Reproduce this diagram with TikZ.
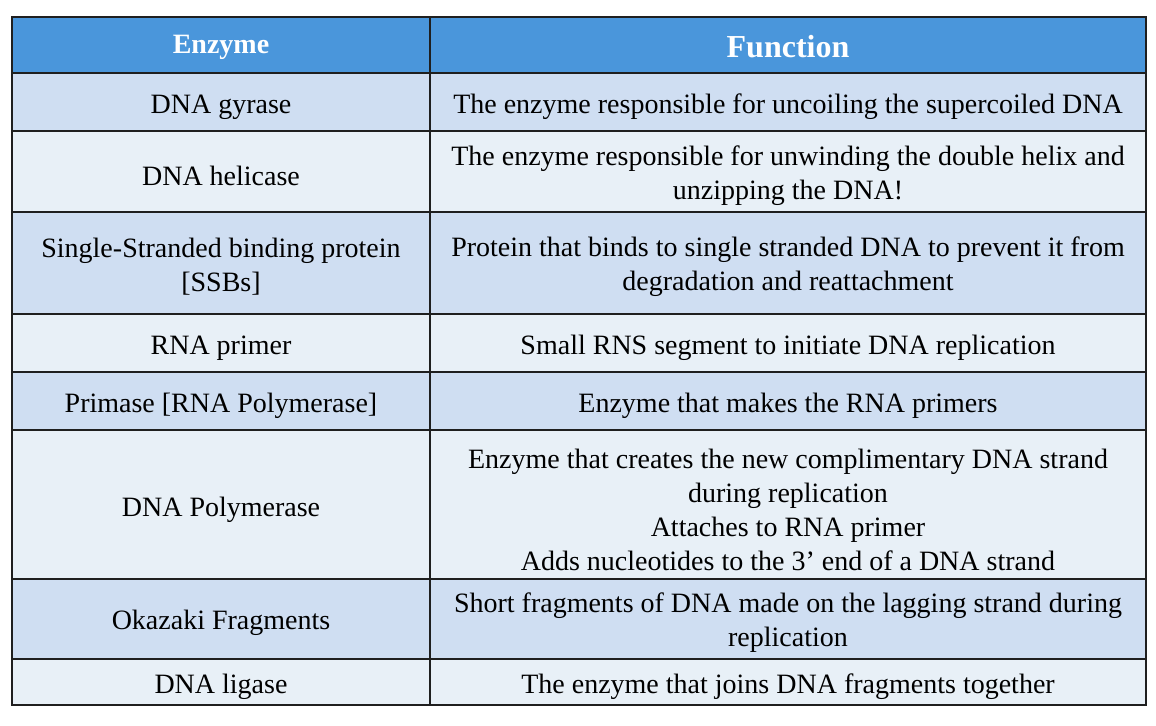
\documentclass[tikz,border=0pt]{standalone}
\usepackage{fontspec}
\setmainfont{Liberation Serif}
\definecolor{headblue}{rgb}{0.29,0.59,0.86}
\definecolor{rowdark}{rgb}{0.81,0.87,0.95}
\definecolor{rowlight}{rgb}{0.91,0.94,0.97}
\definecolor{gridgray}{rgb}{0.12,0.12,0.12}
\tikzset{
    cell/.style={align=center, inner sep=0pt, yshift=-1.5pt, font=\fontsize{14}{17}\selectfont},
    headcell/.style={cell, text=white, font=\fontsize{14}{17}\selectfont\bfseries},
    rule/.style={line width=0.8pt, color=gridgray}
}
\begin{document}
\begin{tikzpicture}[x=0.5pt, y=-0.5pt]
    \useasboundingbox (0,0) rectangle (1156,726);
    % row fills
    \fill[headblue] (12,17) rectangle (1146,73);
    \fill[rowdark] (12,73) rectangle (1146,131);
    \fill[rowlight] (12,131) rectangle (1146,212);
    \fill[rowdark] (12,212) rectangle (1146,314);
    \fill[rowlight] (12,314) rectangle (1146,372);
    \fill[rowdark] (12,372) rectangle (1146,430);
    \fill[rowlight] (12,430) rectangle (1146,579);
    \fill[rowdark] (12,579) rectangle (1146,659);
    \fill[rowlight] (12,659) rectangle (1146,705);
    % grid
    \draw [rule] (12,17) rectangle (1146,705);
    \draw [rule] (430,17)-- (430,705);
    \draw [rule] (12,73)-- (1146,73);
    \draw [rule] (12,131)-- (1146,131);
    \draw [rule] (12,212)-- (1146,212);
    \draw [rule] (12,314)-- (1146,314);
    \draw [rule] (12,372)-- (1146,372);
    \draw [rule] (12,430)-- (1146,430);
    \draw [rule] (12,579)-- (1146,579);
    \draw [rule] (12,659)-- (1146,659);
    % header
    \node[headcell] (enzymehead) at (221,44) {Enzyme};
    \node[headcell, font=\fontsize{16}{19}\selectfont\bfseries] (functionhead) at (788,44) {Function};
    % enzyme column
    \node[cell] (gyrase) at (221,104) {DNA gyrase};
    \node[cell] (helicase) at (221,173) {DNA helicase};
    \node[cell] (ssb) at (221,264) {Single-Stranded binding protein\\{}[SSBs]};
    \node[cell] (primer) at (221,345) {RNA primer};
    \node[cell] (primase) at (221,403) {Primase [RNA Polymerase]};
    \node[cell] (polymerase) at (221,507) {DNA Polymerase};
    \node[cell] (okazaki) at (221,620) {Okazaki Fragments};
    \node[cell] (ligase) at (221,684) {DNA ligase};
    % function column
    \node[cell] (gyrasefn) at (788,104) {The enzyme responsible for uncoiling the supercoiled DNA};
    \node[cell] (helicasefn) at (788,173) {The enzyme responsible for unwinding the double helix and\\unzipping the DNA!};
    \node[cell] (ssbfn) at (788,264) {Protein that binds to single stranded DNA to prevent it from\\degradation and reattachment};
    \node[cell] (primerfn) at (788,345) {Small RNS segment to initiate DNA replication};
    \node[cell] (primasefn) at (788,403) {Enzyme that makes the RNA primers};
    \node[cell] (polymerasefn) at (788,507) {Enzyme that creates the new complimentary DNA strand\\during replication\\Attaches to RNA primer\\Adds nucleotides to the 3’ end of a DNA strand};
    \node[cell] (okazakifn) at (788,620) {Short fragments of DNA made on the lagging strand during\\replication};
    \node[cell] (ligasefn) at (788,684) {The enzyme that joins DNA fragments together};
\end{tikzpicture}
\end{document}
